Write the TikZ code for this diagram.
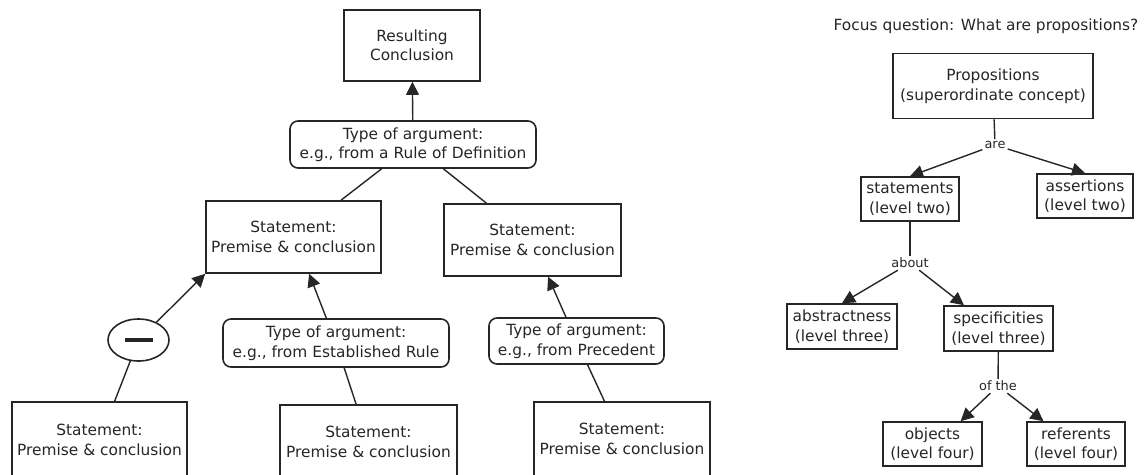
\documentclass[tikz,border=0pt]{standalone}
\usepackage{fontspec}
\setmainfont{DejaVu Sans}
\usetikzlibrary{arrows.meta,shapes.geometric,calc}
\definecolor{ink}{HTML}{262626}
\begin{document}
\begin{tikzpicture}[x=1pt,y=-1pt,
  every node/.style={text=ink, font=\fontsize{15.4}{19.5}\selectfont, align=center},
  box/.style={draw=ink, line width=1.6pt, inner sep=0pt},
  rbox/.style={box, rounded corners=8pt},
  lbl/.style={font=\fontsize{12.9}{15}\selectfont, inner sep=2pt},
  conn/.style={draw=ink, line width=1.4pt},
  arr/.style={conn, -{Triangle[length=13pt,width=13pt]}}]
\useasboundingbox (0,0) rectangle (1147,474);

% ---------- left diagram ----------
\node[box, minimum width=136pt, minimum height=71pt] (rc) at (412,45.5) {Resulting\\Conclusion};
\node[rbox, minimum width=246pt, minimum height=47pt] (ttop) at (413,144.5) {Type of argument:\\e.g., from a Rule of Definition};
\node[box, minimum width=175pt, minimum height=72pt] (ml) at (293.5,237) {Statement:\\Premise \& conclusion};
\node[box, minimum width=177pt, minimum height=72pt] (mr) at (532.5,240) {Statement:\\Premise \& conclusion};
\node[draw=ink, line width=1.6pt, ellipse, minimum width=61pt, minimum height=42pt, inner sep=0pt] (neg) at (138.5,340) {\color{ink}\rule{28pt}{4.5pt}};
\node[rbox, minimum width=226pt, minimum height=48pt] (tmid) at (336,343) {Type of argument:\\e.g., from Established Rule};
\node[rbox, minimum width=175pt, minimum height=46pt] (tr) at (576.5,341) {Type of argument:\\e.g., from Precedent};
\node[box, minimum width=175pt, minimum height=76pt] (bl) at (99.5,440) {Statement:\\Premise \& conclusion};
\node[box, minimum width=177pt, minimum height=74pt] (bm) at (368.5,442) {Statement:\\Premise \& conclusion};
\node[box, minimum width=176pt, minimum height=74pt] (br) at (622,439) {Statement:\\Premise \& conclusion};

\draw[arr] (ttop) -- (rc);
\draw[conn] (ttop) -- (ml);
\draw[conn] (ttop) -- (mr);
\draw[arr] (neg) -- (ml.south west);
\draw[conn] (neg) -- (bl);
\draw[arr] (tmid) -- (ml.-67);
\draw[conn] (tmid) -- (bm);
\draw[arr] (tr) -- (mr.-67);
\draw[conn] (tr) -- (br);

% ---------- right diagram ----------
\node[inner sep=0pt] (fq) at (986,26) {Focus question: What are propositions?};
\node[box, minimum width=200pt, minimum height=65pt] (prop) at (993,86) {Propositions\\(superordinate concept)};
\node[lbl] (are) at (995,145) {are};
\node[box, minimum width=98pt, minimum height=44pt] (stm) at (910,199) {statements\\(level two)};
\node[box, minimum width=96pt, minimum height=44pt] (ass) at (1085,196) {assertions\\(level two)};
\node[lbl] (about) at (910,263) {about};
\node[box, minimum width=110pt, minimum height=45pt] (abs) at (842,326.5) {abstractness\\(level three)};
\node[box, minimum width=109pt, minimum height=45pt] (spec) at (998.5,328.5) {specificities\\(level three)};
\node[lbl] (ofthe) at (998,386) {of the};
\node[box, minimum width=99pt, minimum height=44pt] (obj) at (932.5,444) {objects\\(level four)};
\node[box, minimum width=98pt, minimum height=44pt] (ref) at (1076,444) {referents\\(level four)};

\draw[conn] (prop) -- (are);
\draw[arr] (are) -- (stm.north);
\draw[arr] (are) -- (ass.north);
\draw[conn] (stm) -- (about);
\draw[arr] (about) -- (abs.north);
\draw[arr] (about) -- (spec.146);
\draw[conn] (spec) -- (ofthe);
\draw[arr] (ofthe) -- (obj.39);
\draw[arr] (ofthe) -- (ref.145);
\end{tikzpicture}
\end{document}
